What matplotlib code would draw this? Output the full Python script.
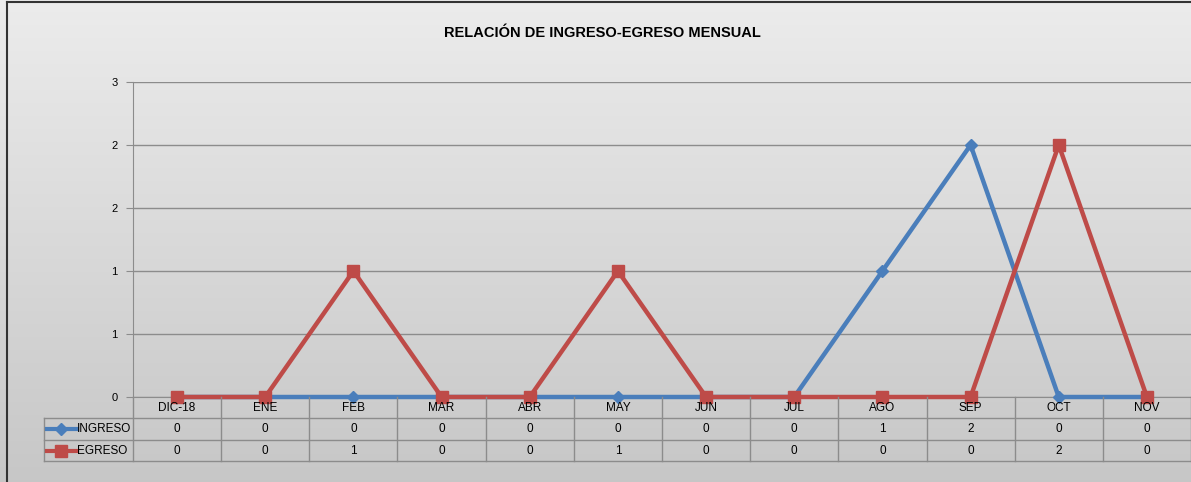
import numpy as np
import matplotlib
matplotlib.use("Agg")
import matplotlib.pyplot as plt
from matplotlib.transforms import blended_transform_factory
from matplotlib.lines import Line2D

# ---- data ----
categories = ["DIC-18", "ENE", "FEB", "MAR", "ABR", "MAY", "JUN", "JUL", "AGO", "SEP", "OCT", "NOV"]
ingreso = [0, 0, 0, 0, 0, 0, 0, 0, 1, 2, 0, 0]
egreso = [0, 0, 1, 0, 0, 1, 0, 0, 0, 0, 2, 0]
y_ticks = [0, 0.5, 1, 1.5, 2, 2.5]
y_tick_labels = ["0", "1", "1", "2", "2", "3"]
title = "RELACIÓN DE INGRESO-EGRESO MENSUAL"
series_names = ["INGRESO", "EGRESO"]

W, H = 1191, 482
fig = plt.figure(figsize=(W / 100, H / 100), dpi=100)
font = ["Liberation Sans Narrow", "Liberation Sans", "DejaVu Sans"]

# background gradient
bg = fig.add_axes([0, 0, 1, 1], zorder=-10)
grad = np.linspace(0, 1, 256).reshape(-1, 1)
top = np.array([0.925, 0.925, 0.925])
bot = np.array([0.78, 0.78, 0.78])
img = top + (bot - top) * grad[:, :, None]
bg.imshow(img, aspect="auto", extent=[0, 1, 0, 1])
bg.set_xlim(0, 1); bg.set_ylim(0, 1)
bg.axis("off")
# border
bg.plot([7 / W, 7 / W], [0, 1 - 2 / H], color="#333333", lw=1.5)
bg.plot([7 / W, 1], [1 - 2 / H, 1 - 2 / H], color="#333333", lw=1.5)

left, right, ytop, ybot = 133, 1191, 82, 397
ax = fig.add_axes([left / W, 1 - ybot / H, (right - left) / W, (ybot - ytop) / H])
ax.set_facecolor("none")
x = np.arange(len(categories))
ax.set_xlim(-0.5, len(categories) - 0.5)
ax.set_ylim(0, 2.5)

ax.set_yticks(y_ticks)
ax.set_yticklabels(y_tick_labels, fontsize=8, family=font)
ax.yaxis.grid(True, color="#8c8c8c", lw=1)
ax.set_axisbelow(True)
ax.tick_params(axis="y", length=5, color="#8c8c8c", pad=6)
ax.set_xticks([])
for s in ["top", "right"]:
    ax.spines[s].set_visible(False)
ax.spines["left"].set_color("#8c8c8c")
ax.spines["bottom"].set_color("#8c8c8c")

blue = "#4a7ebb"
red = "#be4b48"
ax.plot(x, ingreso, color=blue, lw=3.2, marker="D", ms=6.5, zorder=3, clip_on=False)
ax.plot(x, egreso, color=red, lw=3.2, marker="s", ms=9, zorder=3, clip_on=False)

# ---- data table ----
trans = blended_transform_factory(ax.transData, fig.transFigure)
row_y = [397, 418, 440, 461]
gc = "#8c8c8c"
xb = np.arange(len(categories) + 1) - 0.5
for xv in xb:
    fig.add_artist(Line2D([xv, xv], [1 - row_y[0] / H, 1 - row_y[-1] / H], transform=trans, color=gc, lw=1))
for yy in row_y[1:]:
    fig.add_artist(Line2D([44 / W, 1], [1 - yy / H, 1 - yy / H], transform=fig.transFigure, color=gc, lw=1))
fig.add_artist(Line2D([44 / W, 44 / W], [1 - row_y[1] / H, 1 - row_y[-1] / H], transform=fig.transFigure, color=gc, lw=1))

for i, c in enumerate(categories):
    fig.text(i, 1 - 408 / H, c, transform=trans, ha="center", va="center", fontsize=8.5, family=font)
    fig.text(i, 1 - 429 / H, str(ingreso[i]), transform=trans, ha="center", va="center", fontsize=8.5, family=font)
    fig.text(i, 1 - 451 / H, str(egreso[i]), transform=trans, ha="center", va="center", fontsize=8.5, family=font)

# legend keys in table
for yy, col, mk, ms, name in [(429, blue, "D", 6, series_names[0]), (451, red, "s", 8, series_names[1])]:
    fig.add_artist(Line2D([47 / W, 77 / W], [1 - yy / H] * 2, transform=fig.transFigure, color=col, lw=3))
    fig.add_artist(Line2D([61 / W], [1 - yy / H], transform=fig.transFigure, color=col, marker=mk, ms=ms, lw=0))
    fig.text(77 / W, 1 - yy / H, name, ha="left", va="center", fontsize=8.5, family=font)

fig.text(602 / W, 1 - 33 / H, title, ha="center", va="center", fontsize=10.5, fontweight="bold", family=font)

fig.savefig("out.png", dpi=100)
